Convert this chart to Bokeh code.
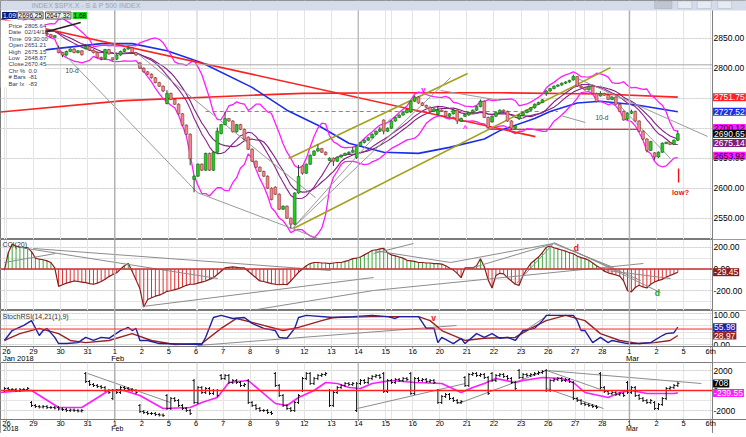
import numpy as np
from bokeh.plotting import figure
from bokeh.layouts import column
from bokeh.models import (Range1d, FixedTicker, Label, Span, Grid, BoxAnnotation)
from bokeh.embed import file_html
from bokeh.resources import INLINE

FONT = "Liberation Sans"

# ---------------- data ----------------
day_labels = ["26", "29", "30", "31", "1", "2", "5", "6", "7", "8", "9", "12", "13", "14",
              "15", "16", "20", "21", "22", "23", "26", "27", "28", "1", "2", "5", "6th"]
month_labels_top = [(0, "Jan 2018"), (4, "Feb"), (23, "Mar")]
month_labels_low = [(0, "2018"), (4, "Feb"), (23, "Mar")]

pre_closes = [2848, 2850, 2842, 2835, 2830, 2828, 2837.5, 2845, 2842, 2838, 2835, 2832, 2836, 2839.3]

day_open = [2847.0, 2867.0, 2832.7, 2832.4, 2816.5, 2808.9, 2741.0, 2614.8, 2691.0, 2685.0, 2601.8,
            2636.8, 2646.3, 2651.2, 2713.5, 2727.1, 2723.0, 2720.5, 2710.4, 2715.8, 2757.4, 2780.5,
            2753.8, 2715.2, 2658.9]
day_high = [2872.9, 2870.6, 2837.8, 2839.3, 2836.0, 2808.9, 2763.4, 2701.0, 2727.7, 2685.3, 2638.7,
            2672.6, 2668.8, 2702.1, 2731.5, 2754.4, 2737.6, 2747.8, 2731.3, 2747.8, 2780.6, 2789.2,
            2761.5, 2730.9, 2696.3]
day_low = [2846.2, 2851.5, 2818.3, 2813.0, 2812.7, 2760.0, 2638.2, 2593.1, 2681.3, 2580.6, 2532.7,
           2622.5, 2637.1, 2648.9, 2689.8, 2725.1, 2706.8, 2701.3, 2697.8, 2713.7, 2753.8, 2744.2,
           2713.5, 2659.7, 2647.3]
closes = [
    [2856, 2860, 2862, 2865, 2866, 2869, 2872.5],   # Jan 26
    [2864, 2862, 2860, 2858, 2856, 2852, 2853.5],   # Jan 29
    [2826, 2822, 2828, 2832, 2826, 2829, 2822.4],   # Jan 30
    [2836, 2830, 2826, 2818, 2816, 2831, 2823.8],   # Jan 31
    [2815, 2822, 2828, 2832, 2834, 2826, 2822.0],   # Feb 1
    [2800, 2794, 2790, 2784, 2776, 2770, 2762.1],   # Feb 2
    [2758, 2748, 2740, 2724, 2705, 2690, 2648.9],   # Feb 5
    [2620, 2640, 2630, 2658, 2630, 2660, 2695.1],   # Feb 6
    [2706, 2716, 2712, 2694, 2706, 2698, 2681.7],   # Feb 7
    [2665, 2645, 2635, 2628, 2620, 2600, 2581.0],   # Feb 8
    [2590, 2565, 2570, 2550, 2540, 2592, 2619.6],   # Feb 9
    [2625, 2640, 2655, 2662, 2666, 2660, 2656.0],   # Feb 12
    [2650, 2645, 2652, 2655, 2658, 2660, 2662.9],   # Feb 13
    [2670.5, 2676, 2680, 2684, 2690, 2695, 2698.6], # Feb 14
    [2695, 2700, 2712, 2718, 2722, 2726, 2731.2],   # Feb 15
    [2745, 2752, 2742, 2738, 2735, 2728, 2732.2],   # Feb 16
    [2730, 2728, 2720, 2724, 2730, 2712, 2716.3],   # Feb 20
    [2722, 2726, 2730, 2736, 2745, 2718, 2701.3],   # Feb 21
    [2720, 2726, 2730, 2728, 2712, 2700, 2704.0],   # Feb 22
    [2722, 2726, 2730, 2734, 2740, 2743, 2747.3],   # Feb 23
    [2762, 2766, 2770, 2772, 2775, 2777, 2779.6],   # Feb 26
    [2786, 2770, 2768, 2764, 2770, 2758, 2744.3],   # Feb 27
    [2758, 2755, 2748, 2752, 2740, 2728, 2713.8],   # Feb 28
    [2725, 2728, 2712, 2695, 2682, 2663, 2677.7],   # Mar 1
    [2652, 2660, 2675, 2676, 2673, 2680, 2690.7],   # Mar 2
]

blue_i = [-1, 11, 25, 33, 42, 51, 64, 73, 81, 89, 98, 107, 115, 124, 128, 137, 141, 148, 154, 163, 174]
blue_v = [2824, 2831, 2841, 2841, 2829, 2809, 2768, 2730, 2705, 2675, 2660, 2658, 2668, 2682, 2696,
          2716, 2728, 2742, 2745, 2739, 2727.52]
red_i = [-1, 31, 64, 77, 102, 128, 154, 174]
red_v = [2727, 2746, 2755, 2758, 2759, 2759, 2757, 2751.75]

main_gray = [
    (14.5, 2829.5, 49.9, 2592.5), (49.9, 2592.5, 81.2, 2516.0), (34.4, 2824.5, 80.4, 2584.2),
    (74.4, 2532.8, 115.3, 2784.5), (74.4, 2532.8, 99.8, 2716.0), (112.7, 2762.8, 128.2, 2746.2),
    (148.1, 2782.8, 181.7, 2686.2), (154.0, 2771.2, 172.1, 2649.5), (143.7, 2721.2, 150.1, 2709.5),
]
main_black = [(10.1, 2859.5, 19.7, 2876.2)]
main_red = [(-1.0, 2882.0, 137.2, 2686.0)]
main_olive = [(73.4, 2649.5, 119.7, 2791.2), (74.7, 2532.8, 156.6, 2801.0)]
red_dash_level = (52, 143, 2727.8)
red_level = (125, 163.6, 2698.0)

cci = [
    [-10, 150, 230, 210, 200, 200, 195],
    [160, 100, 90, 85, 75, 60, 10],
    [-160, -145, -130, -120, -110, -115, -120],
    [-125, -135, -140, -130, -115, -95, -70],
    [-50, -35, 0, 30, 50, -20, -100],
    [-180, -350, -280, -265, -250, -240, -225],
    [-205, -200, -190, -180, -165, -150, -140],
    [-140, -130, -120, -110, -95, -80, -50],
    [-20, 10, 15, 20, 15, 10, 10],
    [-20, -50, -80, -110, -115, -125, -135],
    [-140, -145, -140, -145, -110, -70, -30],
    [0, 30, 50, 60, 60, 55, 55],
    [50, 55, 60, 60, 70, 80, 95],
    [100, 110, 130, 150, 170, 175, 185],
    [190, 150, 130, 120, 110, 100, 80],
    [75, 70, 60, 60, 55, 55, 50],
    [50, 45, 30, 10, -10, -40, -80],
    [10, 10, 10, 30, 95, 20, -100],
    [-175, -60, -40, -45, -80, -110, -140],
    [-150, -60, 0, 50, 80, 110, 150],
    [200, 210, 195, 185, 175, 165, 150],
    [140, 120, 105, 95, 80, 55, 30],
    [10, -20, -35, -45, -55, -65, -110],
    [-200, -210, -170, -150, -165, -175, -140],
    [-120, -105, -95, -75, -60, -45, -29.45],
]
cci_lines = [
    (4.15, 197.7, 55.1, -87.4), (0.0, 59.8, 13.2, 142.5), (7.5, 188.5, 84.3, -13.8),
    (35.7, -344.8, 95.4, -78.2), (63.6, -381.6, 95.4, -197.7), (95.4, 142.5, 105.7, 234.5),
    (95.4, -197.7, 165.1, 50.6), (95.4, 170.0, 115.3, 59.8), (115.3, 59.8, 141.9, 234.5),
    (121.2, 13.8, 141.9, 234.5), (132.3, -133.0, 141.9, 234.5), (141.9, 234.5, 157.4, 13.8),
    (141.9, 243.7, 164.4, -105.7), (147.0, 170.0, 169.5, -216.0), (155.6, -13.8, 172.1, -87.4),
]

sb_i = [0, 2, 5, 7, 9, 10, 11, 13, 14, 16, 19, 21, 23, 25, 27, 30, 32, 33, 34, 35, 37, 40, 51, 52, 54,
        56, 59, 62, 64, 67, 70, 71, 73, 75, 76, 78, 85, 90, 95, 99, 101, 102, 107, 109, 111, 112, 113,
        116, 118, 119, 122, 124, 126, 128, 130, 132, 134, 137, 139, 140, 147, 148, 149, 150, 152, 154,
        156, 157, 161, 164, 167, 170, 171, 173, 174]
sb_v = [13, 45, 62, 77, 29, 45, 52, 23, 3, 3, 6, 23, 13, 23, 20, 45, 55, 45, 52, 13, 13, 3, 0, 23, 87,
        94, 84, 87, 68, 52, 45, 23, 20, 52, 87, 94, 87, 90, 94, 90, 84, 90, 90, 52, 52, 6, 23,
        3, 20, 3, 35, 23, 35, 20, 23, 13, 45, 52, 77, 94, 94, 77, 45, 45, 6, 23,
        6, 13, 3, 3, 6, 29, 35, 38, 55.98]
sr_i = [0, 4, 9, 14, 17, 21, 27, 33, 38, 44, 51, 56, 60, 65, 72, 76, 82, 85, 95, 107, 110, 113, 119,
        124, 132, 136, 140, 145, 150, 154, 159, 164, 168, 172, 174]
sr_v = [13, 35, 52, 35, 13, 6, 13, 35, 13, 0, 3, 52, 84, 68, 45, 55, 77, 87, 90, 90, 77, 45, 13,
        20, 23, 52, 77, 94, 77, 35, 13, 3, 6, 13, 28.97]
stoch_lines = [(49.9, -3.2, 116.8, 61.3), (131.5, 19.4, 141.1, 100.0)]

b_open = [0, -1200, -1700, 1700, -800, -1500, -500, 1000, 1500, 1000, 1700, 0, 0, -2000, 1700, 1700,
          0, 1300, 1700, 2000, 2000, 800, 1700, 800, -1200]
b_close = [
    [200, 100, 100, 0, 100, 100, 200],
    [-1500, -1600, -1650, -1600, -1700, -1700, -1750],
    [-1850, -1900, -2000, -1950, -2000, -2050, -2000],
    [900, 600, 500, 400, 300, 0, -200],
    [0, -200, 300, 200, 100, 0, -200],
    [-2100, -2200, -2300, -2300, -2400, -2450, -2500],
    [-1800, -800, -1000, -1500, -1800, -2000, -2300],
    [-1200, 300, -200, 200, -300, 0, -500],
    [1200, 1500, 800, 1000, 800, 500, 600],
    [-1200, -1500, -1800, -2000, -2000, -2200, -2300],
    [500, -500, -1500, -1800, -2000, -1200, -500],
    [1200, 1700, 700, 1200, 1500, 1600, 1700],
    [-1500, -200, 300, 500, 700, 600, 700],
    [700, 1000, 800, 1200, 1400, 1500, 1300],
    [-100, 1000, 800, 1100, 1000, 1200, 1100],
    [-300, 1200, 1000, 1100, 900, 1000, 800],
    [-1200, -600, -400, -800, -1000, -1200, -1100],
    [500, 1600, 1700, 1500, 1600, 1300, -300],
    [1000, 1500, 1600, 1400, 1200, 800, 200],
    [1300, 1600, 1500, 1600, 1700, 1800, 1900],
    [0, 1000, 1100, 1200, 1000, 1100, 900],
    [-800, -1000, -1300, -1400, -1500, -1600, -1700],
    [300, -100, -300, -200, -400, -300, -500],
    [-200, 300, -500, -800, -1000, -1200, -1000],
    [-1800, -1400, -800, 200, 300, 500, 708],
]
bm_i = [-1, 2, 7, 14, 20, 27, 30, 35, 41, 48, 51, 55, 58, 63, 70, 73, 76, 80, 83, 86, 89, 92, 95, 100, 106,
        113, 118, 121, 124, 127, 132, 134, 139, 144, 147, 150, 156, 159, 162, 166, 173, 174]
bm_v = [-200, -100, 0, -1700, -1700, 0, 100, -500, -1800, -1700, -1200, -700, 800, 1000, -1300, -1500, -700,
        0, 800, 700, 300, 200, 700, 1000, 800, 700, -200, 300, 700, 1200, 800, 1000, 1300, 1200, 800,
        -200, -700, -200, 0, -300, -300, -239.55]
bottom_lines = [(21.5, 1700, 42.9, -1200), (91.2, -1800, 119.1, 700), (117.3, -1300, 140.1, 2000),
                (140.1, 2000, 154.8, 0), (140.1, 200, 154.8, -1800), (140.1, 2000, 180.1, 700)]

info_rows = [("Price", "2805.64"), ("Date", "02/14/18"), ("Time", "09:30:00"), ("Open", "2651.21"),
             ("High", "2675.15"), ("Low", "2648.87"), ("Close", "2670.45"), ("Chr %", "0.0"),
             ("# Bars", "-81"), ("Bar Ix", "-83")]
crosshair_bar = 91.4
crosshair_price = 2805.64

# ---------------- derived ----------------
BPD = 7
ndays = len(closes)
nbars = ndays * BPD
idx = np.arange(nbars)
day_ticks = [BPD * k + 0.5 for k in range(len(day_labels))]

o, c, h, l = [], [], [], []
for k in range(ndays):
    prev = day_open[k]
    do, dc = [], []
    for j in range(BPD):
        do.append(prev)
        dc.append(closes[k][j])
        prev = closes[k][j]
    tops = [max(a, b) for a, b in zip(do, dc)]
    bots = [min(a, b) for a, b in zip(do, dc)]
    hh = [t + 1.2 for t in tops]
    ll = [b - 1.2 for b in bots]
    jt, jb = int(np.argmax(tops)), int(np.argmin(bots))
    hh[jt] = max(hh[jt], day_high[k])
    ll[jb] = min(ll[jb], day_low[k])
    o += do; c += dc; h += hh; l += ll
o, c, h, l = map(np.array, (o, c, h, l))
up = c >= o
btop = np.maximum(o, c)
bbot = np.minimum(o, c)
small = (btop - bbot) < 1.6
btop = np.where(small, btop + 0.8, btop)
bbot = np.where(small, bbot - 0.8, bbot)

ext = np.array(pre_closes + [v for d in closes for v in d], dtype=float)
npre = len(pre_closes)


def sma_std(n):
    m, s = [], []
    for i in range(nbars):
        w = ext[npre + i - n + 1: npre + i + 1]
        m.append(w.mean())
        s.append(w.std())
    return np.array(m), np.array(s)


mid10, sd10 = sma_std(10)
mid13, _ = sma_std(13)
bb_up = mid10 + 2 * sd10
bb_lo = mid10 - 2 * sd10

cci_flat = np.array([v for d in cci for v in d], dtype=float)

bo, bc = [], []
for k in range(ndays):
    prev = b_open[k]
    for j in range(BPD):
        bo.append(prev)
        bc.append(b_close[k][j])
        prev = b_close[k][j]
bo, bc = np.array(bo, float), np.array(bc, float)
bhi = np.maximum(bo, bc) + 150
blo = np.minimum(bo, bc) - 150

# ---------------- layout ----------------
W = 746
PXB = 3.87                      # pixels per hourly bar
X0 = -3.94 / PXB
X1 = X0 + W / PXB
XA = X0 + 712 / PXB             # right edge of the plotting area
XL = XA + 0.15
xr = Range1d(X0, X1)
AXC = "#808080"


def panel(h, y0, y1):
    p = figure(width=W, height=h, x_range=xr, y_range=Range1d(y0, y1),
               output_backend="svg", toolbar_location=None,
               x_axis_location=None, y_axis_location=None,
               min_border_left=0, min_border_right=0, min_border_top=0,
               min_border_bottom=0, background_fill_color="white",
               border_fill_color="white", outline_line_color="#7a7a7a")
    return p


def txt(p, x, y, text, color="black", size="7px", align="left", style="normal", baseline="middle"):
    p.add_layout(Label(x=x, y=y, text=text, text_font=FONT, text_font_size=size, text_color=color,
                       text_align=align, text_baseline=baseline, text_font_style=style))


def box_label(p, x, y, text, bg, fg="white", size="8.5px", border=None):
    p.add_layout(Label(x=x, y=y, text=text, text_font=FONT, text_font_size=size, text_color=fg,
                       text_align="left", text_baseline="middle", background_fill_color=bg,
                       border_line_color=border, padding=1))


def grids(p, ticks):
    p.add_layout(Grid(dimension=1, ticker=FixedTicker(ticks=ticks), grid_line_color="#c4c4c4",
                      grid_line_dash="1 2"))
    p.add_layout(Grid(dimension=0, ticker=FixedTicker(ticks=day_ticks), grid_line_color="#e4e4e4"))
    for mi in (4, 23):
        p.add_layout(Span(location=day_ticks[mi], dimension="height", line_color="#b0b0b0", line_width=1.5))
    p.add_layout(Span(location=crosshair_bar, dimension="height", line_color="#a8a8a8", line_width=1))


def price_scale(p, ticks, labels, ypos=None):
    p.add_layout(BoxAnnotation(left=XA, right=X1, fill_color="white", fill_alpha=1.0, line_color=None))
    p.add_layout(Span(location=XA, dimension="height", line_color=AXC, line_width=1))
    for n, (t, s) in enumerate(zip(ticks, labels)):
        yy = t if ypos is None else ypos[n]
        txt(p, XL + 0.1, yy, s, "black", "8.5px")


def date_strip(p, y_top, y_bot, y_day, y_month, months, msize):
    p.add_layout(BoxAnnotation(bottom=y_bot, top=y_top, fill_color="white", fill_alpha=1.0, line_color=None))
    p.add_layout(Span(location=y_top, dimension="width", line_color="#7a7a7a", line_width=1))
    p.add_layout(Span(location=XA, dimension="height", line_color=AXC, line_width=1))
    tick_len = abs(y_top - y_bot) * 2.0 / 16.0
    p.segment(x0=day_ticks, y0=[y_top] * len(day_ticks), x1=day_ticks,
              y1=[y_top - tick_len] * len(day_ticks), line_color="#777777", line_width=1, level="overlay")
    for t, s in zip(day_ticks, day_labels):
        txt(p, t, y_day, s, "black", "7.5px", "center")
    for k, s in months:
        txt(p, day_ticks[k] - 0.9, y_month, s, "black", msize, "left")


def segs(p, lines, color, width=1.0, dash="solid"):
    p.segment(x0=[a[0] for a in lines], y0=[a[1] for a in lines], x1=[a[2] for a in lines],
              y1=[a[3] for a in lines], line_color=color, line_width=width, line_dash=dash)


def py(ypix):
    return 2800 - (ypix - 67.7) / 0.6


# ---- main price panel ----
pm = panel(239, py(239), py(0))
pticks = [2550, 2600, 2650, 2700, 2750, 2800, 2850]
grids(pm, pticks)
pm.add_layout(Span(location=crosshair_price, dimension="width", line_color="#a8a8a8", line_width=1))
pm.segment(x0=[red_dash_level[0]], y0=[red_dash_level[2]], x1=[red_dash_level[1]], y1=[red_dash_level[2]],
           line_color="#ff5050", line_width=1, line_dash="4 3")
pm.segment(x0=[red_level[0]], y0=[red_level[2]], x1=[red_level[1]], y1=[red_level[2]],
           line_color="#ff2a2a", line_width=1.3)
pm.line(red_i, red_v, line_color="#ff2020", line_width=1.6)
pm.line(blue_i, blue_v, line_color="#1c2ee8", line_width=1.6)
pm.line(idx, bb_up, line_color="#ff1cff", line_width=1.3)
pm.line(idx, bb_lo, line_color="#ff1cff", line_width=1.3)
pm.line(idx, mid13, line_color="#7a1f7a", line_width=1.1)
pm.line(idx, mid10, line_color="#8e1e8e", line_width=1.1)
segs(pm, main_red, "#ff2020", 1.6)
segs(pm, main_olive, "#a3a11c", 1.6)
segs(pm, main_gray, "#9a9a9a", 1.0)
segs(pm, main_black, "#202020", 1.4)
pm.segment(x0=idx, y0=l, x1=idx, y1=h, line_color="#333333", line_width=1)
pm.vbar(x=idx[up], width=0.72, top=btop[up], bottom=bbot[up], fill_color="#22cc22", line_color="#116611", line_width=0.6)
pm.vbar(x=idx[~up], width=0.72, top=btop[~up], bottom=bbot[~up], fill_color="#f08a8a", line_color="#8a3030", line_width=0.6)

txt(pm, 15.8, py(70), "10-d", "#444444", "6.5px")
txt(pm, 152.7, py(117), "10-d", "#444444", "6.5px")
txt(pm, 108.3, py(89), "v", "#ff00ff", "8px", "center", "bold")
txt(pm, 119.1, py(128), "^", "#ff00ff", "8px", "center", "bold")
txt(pm, 174.7, py(192), "low?", "#ee1111", "7.5px", "center", "bold")
pm.segment(x0=[174.2], y0=[py(168)], x1=[174.2], y1=[py(182)], line_color="#ee1111", line_width=1.4)

price_scale(pm, pticks, ["%.2f" % t for t in pticks])
box_label(pm, XL, 2751.75, "2751.75", "#ff2020")
box_label(pm, XL, 2727.52, "2727.52", "#1c2ee8")
box_label(pm, XL, 2700.5, "2700.12", "#ff1cff", "black")
box_label(pm, XL, 2690.65, "2690.65", "#000000")
box_label(pm, XL, 2675.14, "2675.14", "#7a1f7a")
box_label(pm, XL, 2653.92, "2653.92", "#ff1cff", "black")

# data window box
pm.add_layout(BoxAnnotation(left=X0, right=10.6, top=py(20), bottom=py(87), fill_color="white",
                            fill_alpha=1.0, line_color=None))
for n, (name, val) in enumerate(info_rows):
    yy = py(25.5 + 6.4 * n)
    txt(pm, 1.05, yy, name, "#34405a", "6px")
    txt(pm, 5.2 if len(val) > 4 else 6.2, yy, val, "#34405a", "6px")
# title bar and top price boxes
pm.add_layout(BoxAnnotation(left=X0, right=X1, top=py(0), bottom=py(10), fill_color="#d3dce8",
                            fill_alpha=1.0, line_color=None))
txt(pm, 7.0, py(5), "INDEX $SPX.X - S & P 500 INDEX", "#9aa6b6", "7px")
for bx in (174.0, 179.0, 184.3):
    pm.add_layout(BoxAnnotation(left=bx, right=bx + 3.6, top=py(0.5), bottom=py(8), fill_color="#e6ebf2",
                                fill_alpha=1.0, line_color="#8c98a8"))
pm.add_layout(BoxAnnotation(left=168.0, right=172.5, top=py(0.5), bottom=py(8), fill_color="#c0c6ce",
                            fill_alpha=1.0, line_color="#8c98a8"))
box_label(pm, -0.6, py(15), "1.09", "#0a1a70", "white", "6.5px")
box_label(pm, 3.4, py(15), "2696.25", "#f2f2f2", "black", "6.5px", "#555555")
box_label(pm, 10.6, py(15), "2647.32", "#f2f2f2", "black", "6.5px", "#555555")
box_label(pm, 17.6, py(15), "1.68", "#22cc22", "black", "6.5px")


# ---- CCI panel ----
def cy(ypix):
    return (268.5 - ypix) / 0.10875


pc = panel(71, cy(310), cy(239))
grids(pc, [-200, 0, 200])
pc.add_layout(Span(location=0, dimension="width", line_color="#c83030", line_width=1.3))
cols = ["#3aa83a" if v > 0 else "#e03030" for v in cci_flat]
pc.segment(x0=idx, y0=np.zeros(nbars), x1=idx, y1=cci_flat, line_color=cols, line_width=1)
pc.line(idx, cci_flat, line_color="#8b1a1a", line_width=1.2)
segs(pc, cci_lines, "#8c8c8c", 1.0)
txt(pc, -0.5, cy(244), "CCI(20)", "#333333", "7px")
txt(pc, 147.8, cy(247), "d", "#ee1111", "8.5px", "center", "bold")
txt(pc, 168.7, cy(292), "d", "#11aa11", "8.5px", "center", "bold")
price_scale(pc, [-200, 0, 200], ["-200.00", "0.00", "200.00"])
box_label(pc, XL, -29.45, "-29.45", "#8b1a1a")


# ---- StochRSI panel (with the time scale strip under it) ----
def sy(ypix):
    return (344 - ypix) / 0.31


ps = panel(52, sy(362), sy(310))
grids(ps, [0, 50, 100])
ps.add_layout(Span(location=50, dimension="width", line_color="#ff3030", line_width=1.2))
segs(ps, stoch_lines, "#8c8c8c", 1.0)
ps.line(sr_i, sr_v, line_color="#992222", line_width=1.4)
ps.line(sb_i, sb_v, line_color="#2020a0", line_width=1.4)
txt(ps, -0.5, sy(316), "StochRSI(14,21(1),9)", "#333333", "7px")
txt(ps, 110.9, sy(317), "v", "#ee1111", "8.5px", "center", "bold")
price_scale(ps, [0, 50, 100], ["0.00", "50.00", "100.00"], [0, 50, sy(314.5)])
box_label(ps, XL, 55.98, "55.98", "#2020a0")
box_label(ps, XL, 28.97, "28.97", "#992222")
date_strip(ps, sy(346), sy(362), sy(350.5), sy(357.5), month_labels_top, "7.5px")


# ---- breadth panel (with its time scale strip) ----
def by(ypix):
    return (390 - ypix) * 100


pb = panel(71, by(433), by(362))
grids(pb, [-2000, 0, 2000])
pb.add_layout(Span(location=0, dimension="width", line_color="#ff2020", line_width=1.5))
segs(pb, bottom_lines, "#8c8c8c", 1.0)
pb.line(bm_i, bm_v, line_color="#ff1cff", line_width=1.6)
pb.segment(x0=idx, y0=blo, x1=idx, y1=bhi, line_color="#111111", line_width=1)
pb.segment(x0=idx - 0.4, y0=bo, x1=idx, y1=bo, line_color="#111111", line_width=1)
pb.segment(x0=idx, y0=bc, x1=idx + 0.4, y1=bc, line_color="#111111", line_width=1)
price_scale(pb, [-2000, 0, 2000], ["-2000", "0", "2000"])
box_label(pb, XL, 708, "708", "#000000")
box_label(pb, XL, -239.55, "-239.55", "#ff1cff", "white")
date_strip(pb, by(419), by(433), by(423.2), by(428.3), month_labels_low, "7px")

# ---- scroll bar strip ----
pz = figure(width=W, height=4, x_range=xr, y_range=Range1d(0, 1), output_backend="svg",
            toolbar_location=None, x_axis_location=None, y_axis_location=None,
            min_border_left=0, min_border_right=0, min_border_top=0, min_border_bottom=0,
            background_fill_color="#d8d8d8", border_fill_color="#d8d8d8", outline_line_color="#a0a0a0")
pz.add_layout(BoxAnnotation(left=X0 + 27 / PXB, right=X1, top=0.9, bottom=0.1, fill_color="#f0f0f0",
                            fill_alpha=1.0, line_color="#b8b8b8"))

layout = column(pm, pc, ps, pb, pz, spacing=0)
open("out.html", "w").write(file_html(layout, INLINE))
